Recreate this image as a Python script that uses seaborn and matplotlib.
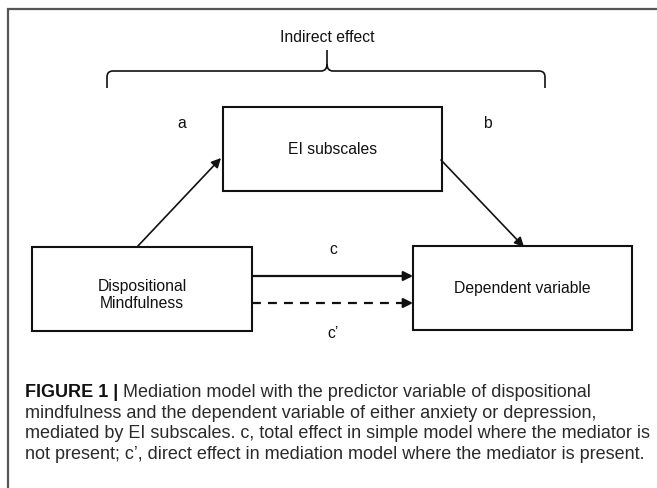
import matplotlib
matplotlib.use("Agg")
import matplotlib.pyplot as plt
from matplotlib.path import Path
import matplotlib.patches as mpatches
import seaborn as sns

# nodes of the mediation model (pixel layout of the original figure)
node_labels = ["EI subscales", "Dispositional\nMindfulness", "Dependent variable"]
node_left = [223, 32, 413]
node_top = [107, 247, 246]
node_width = [219, 220, 219]
node_height = [84, 84, 84]

# paths between nodes
path_labels = ["a", "b", "c", "c\u2019"]
path_start = [(137, 247), (441, 160), (252, 276), (252, 303)]
path_end = [(221, 158), (524, 247), (413, 276), (413, 303)]
path_label_xy = [(182, 128), (487, 128), (333, 254), (333, 338)]

brace_label = "Indirect effect"

caption_bold = "FIGURE 1 |"
caption_lines = [
    " Mediation model with the predictor variable of dispositional",
    "mindfulness and the dependent variable of either anxiety or depression,",
    "mediated by EI subscales. c, total effect in simple model where the mediator is",
    "not present; c\u2019, direct effect in mediation model where the mediator is present.",
]

sns.set_theme(style="white")
plt.rcParams["font.family"] = ["Liberation Sans", "DejaVu Sans"]

fig = plt.figure(figsize=(6.57, 4.88), dpi=100)
ax = fig.add_axes([0, 0, 1, 1])
ax.set_xlim(0, 657)
ax.set_ylim(488, 0)
ax.axis("off")

# outer frame (only left and top edges are visible in the crop)
ax.plot([8, 8, 660], [490, 9, 9], color="#555555", lw=1.6, solid_joinstyle="miter")

# brace over the indirect path
verts = [(107, 88), (107, 77), (107, 71), (113, 71), (321, 71), (327, 71), (327, 64), (327, 50),
         (327, 64), (327, 71), (333, 71), (539, 71), (545, 71), (545, 77), (545, 88)]
codes = [Path.MOVETO, Path.LINETO, Path.CURVE3, Path.CURVE3, Path.LINETO, Path.CURVE3, Path.CURVE3, Path.LINETO,
         Path.MOVETO, Path.CURVE3, Path.CURVE3, Path.LINETO, Path.CURVE3, Path.CURVE3, Path.LINETO]
ax.add_patch(mpatches.PathPatch(Path(verts, codes), fill=False, lw=1.2, color="#111111"))
ax.text(327, 38, brace_label, ha="center", va="center", fontsize=11.3, color="#111111")

# boxes
for lab, x0, y0, w, h in zip(node_labels, node_left, node_top, node_width, node_height):
    ax.add_patch(mpatches.Rectangle((x0, y0), w, h, fill=False, lw=1.5, edgecolor="#111111"))
    ty = y0 + h / 2 + (6 if "\n" in lab else 1)
    ax.text(x0 + w / 2, ty, lab, ha="center", va="center", fontsize=11.3,
            color="#111111", linespacing=1.15)

# arrows
for i, (lab, s, e, lxy) in enumerate(zip(path_labels, path_start, path_end, path_label_xy)):
    lw = 1.6 if i >= 2 else 1.2
    if i == 3:
        # dashed shaft, solid head
        ax.plot([s[0], e[0] - 10], [s[1], e[1]], color="#111111", lw=lw, dashes=(4, 3.2))
        ax.annotate("", xy=e, xytext=(e[0] - 10, e[1]),
                    arrowprops=dict(arrowstyle="-|>", color="#111111", lw=lw,
                                    shrinkA=0, shrinkB=0, mutation_scale=14))
    else:
        ax.annotate("", xy=e, xytext=s,
                    arrowprops=dict(arrowstyle="-|>", color="#111111", lw=lw,
                                    shrinkA=0, shrinkB=0, mutation_scale=14))
    ax.text(lxy[0], lxy[1], lab, ha="center", va="baseline", fontsize=11.3, color="#111111")

# caption: fit the widest line to the width it has in the original
cap_family = ["Liberation Sans", "DejaVu Sans"]
cap_color = "#2a2a2a"
cap_x = 25
cap_y0 = 397
cap_step = 20.6
fig.canvas.draw()
renderer = fig.canvas.get_renderer()
widths = []
for line in caption_lines[1:]:
    probe = ax.text(0, 0, line, fontsize=10, family=cap_family)
    widths.append(probe.get_window_extent(renderer=renderer).width)
    probe.remove()
cap_size = 10 * 626 / max(widths)

t = ax.text(cap_x, cap_y0, caption_bold, ha="left", va="baseline", fontsize=cap_size,
            fontweight="bold", color="#111111", family=cap_family)
bb = t.get_window_extent(renderer=renderer)
bold_end = bb.x1  # pixels == data units here
for k, line in enumerate(caption_lines):
    x = bold_end if k == 0 else cap_x
    ax.text(x, cap_y0 + k * cap_step, line, ha="left", va="baseline", fontsize=cap_size,
            color=cap_color, family=cap_family)

fig.savefig("out.png", dpi=100)
